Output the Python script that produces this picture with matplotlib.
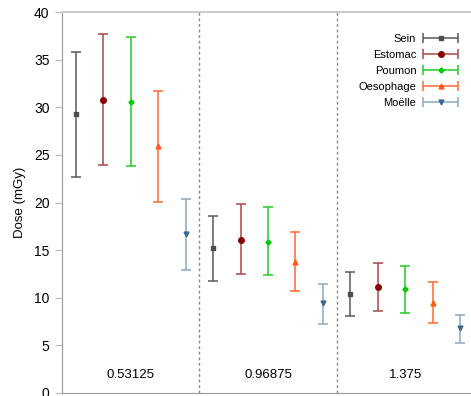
import numpy as np
import matplotlib
matplotlib.use("Agg")
import matplotlib.pyplot as plt
from matplotlib.container import ErrorbarContainer
from matplotlib.legend_handler import HandlerErrorbar

plt.rcParams['font.family'] = ['Liberation Sans', 'DejaVu Sans']

groups = ["0.53125", "0.96875", "1.375"]
organs = ["Sein", "Estomac", "Poumon", "Oesophage", "Moëlle"]

# dose values (mGy) per organ, one entry per group
dose = {
    "Sein":      [29.3, 15.2, 10.4],
    "Estomac":   [30.8, 16.1, 11.1],
    "Poumon":    [30.6, 15.9, 10.9],
    "Oesophage": [25.9, 13.8, 9.5],
    "Moëlle":    [16.7, 9.4, 6.8],
}
dose_low = {
    "Sein":      [22.7, 11.8, 8.1],
    "Estomac":   [23.9, 12.5, 8.6],
    "Poumon":    [23.8, 12.35, 8.45],
    "Oesophage": [20.05, 10.75, 7.4],
    "Moëlle":    [12.9, 7.2, 5.2],
}
dose_high = {
    "Sein":      [35.8, 18.6, 12.75],
    "Estomac":   [37.7, 19.8, 13.6],
    "Poumon":    [37.4, 19.5, 13.3],
    "Oesophage": [31.7, 16.9, 11.7],
    "Moëlle":    [20.4, 11.4, 8.2],
}

marker_color = {"Sein": "#4d4d4d", "Estomac": "#8b0000", "Poumon": "#00cc00",
                "Oesophage": "#ff5a1a", "Moëlle": "#3a6a90"}
bar_color = {"Sein": "#5a5a5a", "Estomac": "#a84848", "Poumon": "#22cc22",
             "Oesophage": "#ff6a30", "Moëlle": "#8aa8c0"}
markers = {"Sein": "s", "Estomac": "o", "Poumon": "D", "Oesophage": "^", "Moëlle": "v"}
msize = {"Sein": 3.5, "Estomac": 4, "Poumon": 2.6, "Oesophage": 3.5, "Moëlle": 3.5}

fig = plt.figure(figsize=(4.71, 3.96), dpi=100)
ax = fig.add_axes([62 / 471, 3 / 396, 412 / 471, 381 / 396])

x = np.arange(len(groups))
offsets = np.linspace(-0.4, 0.4, len(organs))
handles = []
for off, organ in zip(offsets, organs):
    y = np.array(dose[organ])
    err = [y - np.array(dose_low[organ]), np.array(dose_high[organ]) - y]
    cont = ax.errorbar(x + off, y, yerr=err, fmt=markers[organ], ms=msize[organ],
                       color=marker_color[organ], ecolor=bar_color[organ],
                       elinewidth=1.1, capsize=3.5, capthick=1.1, lw=1.1)
    line, caps, bars = cont
    handles.append(ErrorbarContainer((line, caps, bars), has_xerr=True,
                                     has_yerr=False, label=organ))

for d in [0.5, 1.5]:
    ax.axvline(d, color="#888888", lw=1, ls=(0, (2, 2)))

for xi, g in zip(x, groups):
    ax.text(xi, 1.9, g, ha="center", va="center", fontsize=9.5)

ax.set_xlim(-0.5, 2.5)
ax.set_ylim(0, 40)
ax.set_xticks([])
ax.set_yticks(np.arange(0, 41, 5))
ax.tick_params(axis="y", direction="out", length=5, color="#bbbbbb",
               labelsize=10, pad=4)
ax.set_ylabel("Dose (mGy)", fontsize=9.5, labelpad=6)
ax.spines["right"].set_visible(False)
ax.spines["left"].set_color("#999999")
ax.spines["bottom"].set_color("#999999")
ax.spines["top"].set_color("#cccccc")
ax.spines["top"].set_linewidth(1.5)

ax.legend(handles=handles, loc="upper right", bbox_to_anchor=(460 / 474 + 0.004, 0.955),
          frameon=False, markerfirst=False, fontsize=8, handlelength=3.3,
          handletextpad=0.55, labelspacing=0.55, borderaxespad=0, numpoints=1,
          handler_map={ErrorbarContainer: HandlerErrorbar(xerr_size=1.6)})

fig.savefig("out.png", dpi=100)
